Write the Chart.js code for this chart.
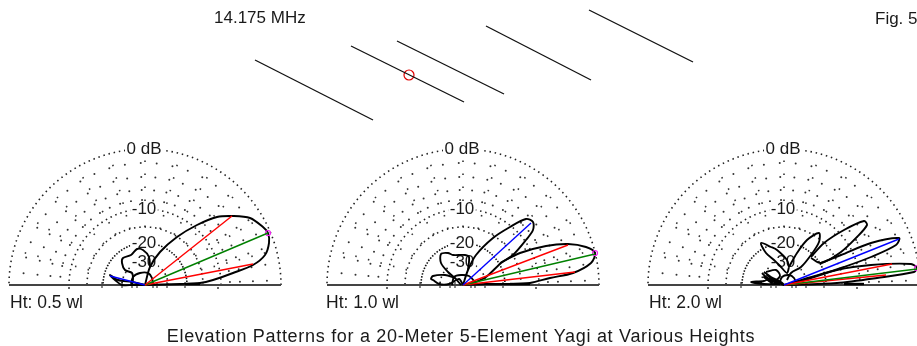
<!DOCTYPE html>
<html><head><meta charset="utf-8">
<style>html,body{margin:0;padding:0;background:#fff;overflow:hidden}canvas{display:block;filter:blur(0.4px)}</style>
<script src="https://cdn.jsdelivr.net/npm/chart.js@4/dist/chart.umd.min.js"></script>
</head><body>
<canvas id="c" width="917" height="346"></canvas>
<script>
// Categories
const plotTitles = ["Ht: 0.5 wl", "Ht: 1.0 wl", "Ht: 2.0 wl"];
const ringLabels = ["0 dB", "-10", "-20", "-30"];
const solidRings = [136, 76, 58, 42, 23];
const sparseRings = [122, 108, 95, 85];
const baseTicks = [-43, -23, -13, -8, 8, 12, 22, 40];
const titleText = "Elevation Patterns for a 20-Meter 5-Element Yagi at Various Heights";
const freqText = "14.175 MHz";
const figText = "Fig. 5";

// Pattern outlines: [x, y], in units where 0 dB ring = 136
const ht05Main = [[0,0],[5,18],[15,33],[32,48],[52,60],[72,68],[88,69],[105,67],[118,58],[123,52],[124,42],[120,30],[108,20],[88,12],[68,5],[55,2],[35,1],[0,0]];
const ht05Back = [[5,18],[4,28],[-2,35],[-8,36],[-14,30],[-22,27],[-23,22],[-20,15],[-13,12],[-12,6],[-13,0]];
const ht05Inner = [[-14,0],[-12,8],[-5,12],[3,12],[7,7],[8,0]];
const ht05Low = [[0,0],[-13,3],[-27,5],[-35,10],[-30,5],[-23,0],[-12,0],[0,0]];
const ht05Shelf = [[40,1],[55,1]];
const ht05Rays = [[[0,0],[87,69]],[[0,0],[123,52]],[[0,0],[108,21]],[[0,0],[-35,9]]];

const ht10A = [[0,0],[5,15],[13,30],[30,47],[47,58],[63,66],[70,63],[70,55],[63,45],[50,30],[38,22],[23,8],[10,2],[0,0]];
const ht10B = [[37,22],[57,32],[83,39],[105,41],[123,38],[132,32],[128,22],[110,12],[87,7],[67,2],[47,1],[23,1],[0,0]];
const ht10Back = [[5,15],[6,28],[2,30],[-10,30],[-15,32],[-22,31],[-22,22],[-15,13],[-8,7],[-2,0]];
const ht10Low = [[-8,7],[-18,10],[-30,9],[-32,6],[-30,5],[-24,1],[-14,1],[-4,6],[0,0]];
const ht10Inner = [[-11,0],[-9,8],[-2,10],[6,9],[11,4],[12,0]];
const ht10Shelf = [[47,1],[67,1]];
const ht10Rays = [[[0,0],[68,62]],[[0,0],[105,40]],[[0,0],[132,31]],[[0,0],[112,13]]];

const ht20A = [[0,0],[53,15],[87,20],[127,21],[133,17],[130,13],[93,7],[53,2],[0,0]];
const ht20B = [[37,22],[57,30],[87,42],[115,47],[112,40],[87,28],[60,18],[27,7],[3,0]];
const ht20C = [[27,28],[40,42],[60,55],[80,64],[83,60],[73,48],[57,33],[37,22],[27,27]];
const ht20D = [[5,18],[13,32],[23,45],[35,52],[35,43],[27,30],[17,18],[7,12],[3,5]];
const ht20Back = [[5,18],[3,25],[-7,35],[-13,38],[-23,42],[-18,32],[-10,25],[-3,18],[3,12],[5,18]];
const ht20Low = [[-20,13],[-13,8],[-3,3],[0,0],[-14,6],[-20,4],[-33,3],[-20,1],[-5,1]];
const ht20Side = [[-18,13],[-8,15],[-4,9],[-10,4],[-18,8]];
const ht20Blob = [[-22,12],[-12,2],[-20,8],[-8,2],[-17,10],[-6,1]];
const ht20Inner = [[-5,0],[-2,8],[5,10],[10,7],[13,0]];
const ht20Shelf = [[60,1],[80,1]];
const ht20Rays = [[[0,0],[115,46]],[[0,0],[108,21]],[[0,0],[133,16]],[[0,0],[102,10]]];

// Antenna elements, in page units
const yagiElements = [[[255,60],[373,120]],[[351,46],[464,102]],[[397,41],[504,94]],[[486,26],[591,80]],[[589,10],[693,62]]];
const feedPoint = [409, 75];

const plotCentersX = [145, 463, 784];
const baseY = 285;
const rightEdge = 917;
const rayColors = [["#ff0000","#008000","#ff0000","#0000ff"],["#0000ff","#ff0000","#008000","#ff0000"],["#0000ff","#ff0000","#008000","#ff0000"]];

const toPage = (cx, pts) => pts.map(p => ({x: cx + p[0], y: baseY - p[1]}));
const rays = [ht05Rays, ht10Rays, ht20Rays];
const lobes = [[ht05Main, ht05Back, ht05Inner, ht05Low],[ht10A, ht10B, ht10Back, ht10Low, ht10Inner],[ht20A, ht20B, ht20C, ht20D, ht20Back, ht20Low, ht20Side, ht20Blob, ht20Inner]];
const shelves = [ht05Shelf, ht10Shelf, ht20Shelf];
const peaks = [[123,52],[132,32],[133,17]];

const datasets = [];
plotCentersX.forEach((cx, i) => {
  rays[i].forEach((r, j) => datasets.push({data: toPage(cx, r), showLine:true, borderColor: rayColors[i][j], borderWidth:1.4, pointRadius:0}));
  datasets.push({data: toPage(cx,[peaks[i]]), showLine:false, pointRadius:2.5, pointBackgroundColor:"rgba(0,0,0,0)", pointBorderColor:"#ee22ee", pointBorderWidth:1.2});
});
plotCentersX.forEach((cx, i) => {
  lobes[i].forEach(l => datasets.push({data: toPage(cx, l), showLine:true, borderColor:"#000", borderWidth:1.9, pointRadius:0, tension:0.3}));
  datasets.push({data: toPage(cx, shelves[i]), showLine:true, borderColor:"#000", borderWidth:2.4, pointRadius:0});
});
yagiElements.forEach(e => datasets.push({data: e.map(p=>({x:p[0],y:p[1]})), showLine:true, borderColor:"#111", borderWidth:1.3, pointRadius:0}));
datasets.push({data:[{x:feedPoint[0],y:feedPoint[1]}], showLine:false, pointRadius:5, pointBackgroundColor:"rgba(0,0,0,0)", pointBorderColor:"#e00000", pointBorderWidth:1.2});
plotCentersX.forEach(cx => {
  datasets.push({data:[{x:cx-136,y:baseY},{x:Math.min(cx+136,rightEdge),y:baseY}], showLine:true, borderColor:"#444", borderWidth:1.8, pointRadius:0});
  baseTicks.forEach(d => {
    datasets.push({data:[{x:cx+d,y:baseY-3},{x:cx+d,y:baseY+3}], showLine:true, borderColor:"#222", borderWidth:1.1, pointRadius:0});
  });
  datasets.push({data:[{x:cx-76,y:baseY+3},{x:cx+73,y:baseY+3}], showLine:false, pointRadius:1, pointBackgroundColor:"#333", pointBorderWidth:0});
});
const gridStart = datasets.length;
plotCentersX.forEach(cx => {
  solidRings.forEach(r => {
    const pts = [];
    for (let a = 0; a <= 180; a += 1) pts.push({x: cx + r*Math.cos(a*Math.PI/180), y: baseY - r*Math.sin(a*Math.PI/180)});
    const dense = r === 42;
    datasets.push({data: pts, showLine:true, borderColor: dense?"#111":"#222", borderWidth: 1.6, borderDash: dense?[1.5,1.5]:[1.5,3.8], pointRadius:0});
  });
  sparseRings.forEach(r => {
    const pts = [];
    for (let a = 2; a < 180; a += 7.5) pts.push({x: cx + r*Math.cos(a*Math.PI/180), y: baseY - r*Math.sin(a*Math.PI/180)});
    datasets.push({data: pts, showLine:false, pointRadius:1, pointBackgroundColor:"#333", pointBorderWidth:0});
  });
  for (let a = 15; a < 180; a += 15) {
    const c = Math.cos(a*Math.PI/180), s = Math.sin(a*Math.PI/180);
    const pts = [{x:cx+58*c,y:baseY-58*s},{x:cx+136*c,y:baseY-136*s}];
    datasets.push({data: pts, showLine:true, borderColor:"#333", borderWidth:1.6, borderDash:[1.5,11.5], pointRadius:0});
  }
});

const textPlugin = {
  id:"labels",
  afterDatasetDraw(chart, args) {
    if (args.index !== gridStart) return;
    const {ctx, scales:{x,y}} = chart;
    const put = (t, px, py, size, align, spacing) => {
      ctx.font = size + 'px "Liberation Sans", Arial, sans-serif';
      ctx.letterSpacing = spacing || "0px";
      ctx.textAlign = align; ctx.textBaseline = "middle"; ctx.fillStyle = "#1a1a1a";
      ctx.fillText(t, x.getPixelForValue(px), y.getPixelForValue(py));
      ctx.letterSpacing = "0px";
    };
    const centered = (t, px, py, size) => {
      ctx.font = size + 'px "Liberation Sans", Arial, sans-serif';
      const w = ctx.measureText(t).width + 3;
      ctx.fillStyle = "#fff";
      ctx.fillRect(x.getPixelForValue(px) - w/2, y.getPixelForValue(py) - 7, w, 14);
      put(t, px, py, size, "center");
    };
    plotCentersX.forEach((cx,i) => {
      const ys = [149, 209, 243, 262];
      ringLabels.forEach((t,j) => centered(t, cx - 1, ys[j], 17));
      put(plotTitles[i], cx - 136 + (i===1?-1:i===2?1:1), 303, 17.5, "left");
    });
    put(freqText, 214, 18, 17, "left");
    put(figText, 875, 19, 17, "left");
    put(titleText, 461, 337, 18, "center", "0.7px");
  }
};

new Chart(document.getElementById("c"), {
  type:"scatter",
  data:{datasets},
  options:{
    responsive:false, animation:false, events:[],
    layout:{padding:0, autoPadding:false},
    plugins:{legend:{display:false},title:{display:false},tooltip:{enabled:false}},
    scales:{
      x:{type:"linear",min:0,max:917,display:false},
      y:{type:"linear",min:0,max:346,reverse:true,display:false}
    }
  },
  plugins:[textPlugin]
});
</script>
</body></html>
